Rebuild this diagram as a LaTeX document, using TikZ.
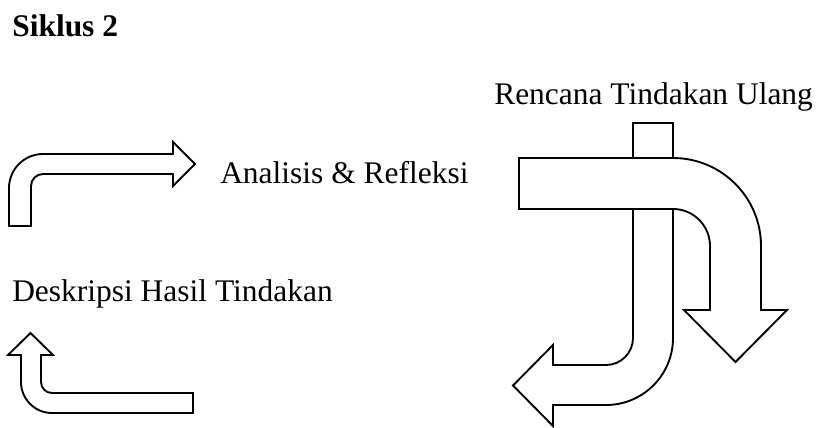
\documentclass[tikz,border=0pt]{standalone}
\usepackage{fontspec}
\setmainfont{Liberation Serif}
\begin{document}
\begin{tikzpicture}[x=0.75pt,y=-0.75pt,
  shp/.style={draw=black,fill=white,line width=1.4pt,line join=miter},
  lbl/.style={anchor=base west,inner sep=0pt,font=\fontsize{23.6}{28}\selectfont}]
\useasboundingbox (0,0) rectangle (818,428);
% title
\node[lbl,font=\fontsize{23.6}{28}\selectfont\bfseries] (title) at (12,37) {Siklus 2};
% labels
\node[lbl] (ar) at (220,183) {Analisis \& Refleksi};
\node[lbl] (dh) at (12,301) {Deskripsi Hasil Tindakan};
\node[lbl] (rt) at (494,105) {Rencana Tindakan Ulang};
% top-left bent arrow (pointing right)
\draw[shp] (9,226) -- (9,188) arc(180:270:34) -- (173,154) -- (173,142) -- (195,164)
  -- (173,186) -- (173,174) -- (43,174) arc(270:180:12) -- (31,226) -- cycle;
% bottom-left bent arrow (pointing up)
\draw[shp] (30.5,333) -- (53,355) -- (41,355) -- (41,382) arc(180:90:11) -- (193,393)
  -- (193,413) -- (52,413) arc(90:180:31) -- (21,355) -- (8,355) -- cycle;
% right: band arrow turning left (drawn first)
\draw[shp] (633,123) -- (673,123) -- (673,338) arc(0:90:67) -- (553,405) -- (553,426)
  -- (513,385.5) -- (553,345) -- (553,365) -- (606,365) arc(90:0:27) -- cycle;
% right: bar turning down (drawn over)
\draw[shp] (519,158) -- (673,158) arc(270:360:88) -- (761,310) -- (787,310) -- (735.5,362)
  -- (684,310) -- (710,310) -- (710,246) arc(0:-90:37) -- (519,209) -- cycle;
\end{tikzpicture}
\end{document}
